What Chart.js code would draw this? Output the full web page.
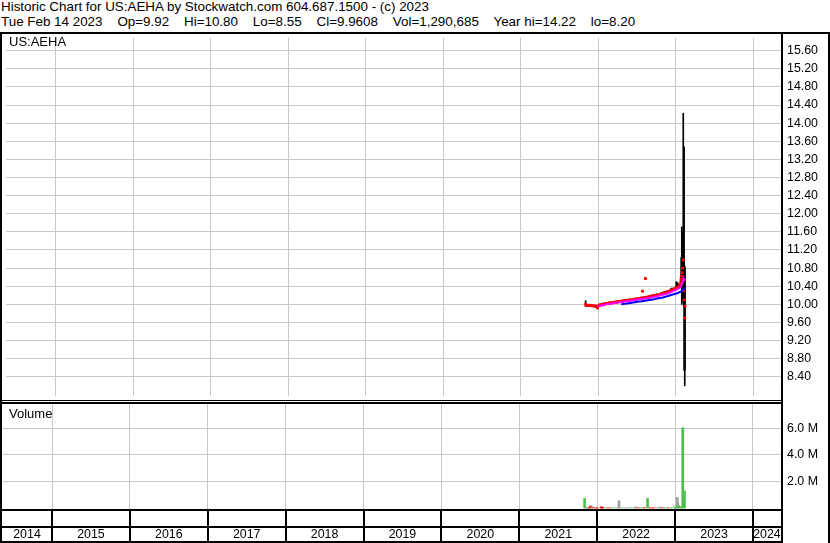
<!DOCTYPE html>
<html><head><meta charset="utf-8">
<script src="https://cdn.jsdelivr.net/npm/chart.js@4.4.1/dist/chart.umd.min.js"></script>
<style>
html,body{margin:0;padding:0;background:#fff;}
body{width:830px;height:543px;position:relative;overflow:hidden;font-family:"Liberation Sans",Arial,sans-serif;color:#000;}
.t{position:absolute;white-space:pre;font-size:13.4px;line-height:15px;}
.l{position:absolute;white-space:pre;font-size:13px;line-height:15px;}
.b{position:absolute;background:#000;}
canvas{position:absolute;}
</style></head><body>
<div class="t" style="left:1px;top:-1px">Historic Chart for US:AEHA by Stockwatch.com 604.687.1500 - (c) 2023</div>
<div class="t" style="left:1px;top:14px">Tue Feb 14 2023    Op=9.92    Hi=10.80    Lo=8.55    Cl=9.9608    Vol=1,290,685    Year hi=14.22    lo=8.20</div>
<canvas id="pc" width="826" height="366" style="left:2px;top:34px"></canvas>
<canvas id="vc" width="826" height="105" style="left:2px;top:404px"></canvas>
<canvas id="ac" width="779" height="30" style="left:2px;top:511px"></canvas>
<div class="l" style="left:9px;top:34px">US:AEHA</div>
<div class="l" style="left:9px;top:406px">Volume</div>
<div class="b" style="left:0;top:32px;width:830px;height:2px"></div>
<div class="b" style="left:0;top:32px;width:2px;height:511px"></div>
<div class="b" style="left:828px;top:32px;width:2px;height:511px"></div>
<div class="b" style="left:781px;top:32px;width:2px;height:511px"></div>
<div class="b" style="left:0;top:400px;width:783px;height:1px"></div>
<div class="b" style="left:0;top:402px;width:783px;height:2px"></div>
<div class="b" style="left:0;top:509px;width:783px;height:2px"></div>
<div class="b" style="left:0;top:526px;width:783px;height:2px"></div>
<div class="b" style="left:0;top:541px;width:783px;height:2px"></div>
<script>
// ---- data ----
const yearTicks = [2015,2016,2017,2018,2019,2020,2021,2022,2023,2024];
const yearLabels = ['2014','2015','2016','2017','2018','2019','2020','2021','2022','2023','2024'];
const priceTickLabels = ['8.40','8.80','9.20','9.60','10.00','10.40','10.80','11.20','11.60','12.00','12.40','12.80','13.20','13.60','14.00','14.40','14.80','15.20','15.60'];
const volTickValues = [2000000,4000000,6000000];
const volTickLabels = ['2.0 M','4.0 M','6.0 M'];

const priceDates = [
'2021-11-03','2021-11-10','2021-11-17','2021-11-24','2021-12-01','2021-12-08','2021-12-15','2021-12-22','2021-12-29',
'2022-01-05','2022-01-12','2022-01-19','2022-01-26','2022-02-02','2022-02-09','2022-02-16','2022-02-23',
'2022-03-02','2022-03-09','2022-03-16','2022-03-23','2022-03-30','2022-04-06','2022-04-13','2022-04-20','2022-04-27',
'2022-05-04','2022-05-11','2022-05-18','2022-05-25','2022-06-01','2022-06-08','2022-06-15','2022-06-22','2022-06-29',
'2022-07-06','2022-07-13','2022-07-20','2022-07-27','2022-07-29','2022-08-03','2022-08-10','2022-08-12','2022-08-17','2022-08-24','2022-08-31',
'2022-09-07','2022-09-14','2022-09-21','2022-09-28','2022-10-05','2022-10-12','2022-10-19','2022-10-26',
'2022-11-02','2022-11-09','2022-11-16','2022-11-23','2022-11-30','2022-12-07','2022-12-14','2022-12-21','2022-12-28',
'2023-01-04','2023-01-11','2023-01-18','2023-01-23','2023-01-25','2023-01-27','2023-01-30','2023-02-01','2023-02-03','2023-02-06','2023-02-08','2023-02-10','2023-02-13','2023-02-14'];
const priceClose = [
10.00,9.98,9.97,9.98,9.97,9.97,9.96,9.96,9.92,
9.98,9.99,10.00,10.00,10.01,10.02,10.02,10.03,
10.03,10.04,10.04,10.05,10.05,10.06,10.06,10.07,10.07,
10.08,10.08,10.09,10.09,10.10,10.10,10.11,10.11,10.12,
10.12,10.13,10.13,10.14,10.29,10.14,10.15,10.57,10.15,10.16,10.17,
10.18,10.18,10.19,10.20,10.20,10.21,10.22,10.23,
10.24,10.25,10.26,10.27,10.28,10.30,10.31,10.33,10.34,
10.36,10.38,10.40,10.42,10.48,10.55,10.62,10.70,10.80,10.98,10.30,10.10,9.70,9.96];
const priceHigh = [
10.08,10.00,9.99,10.00,9.99,9.98,9.98,9.97,9.97,
10.00,10.01,10.02,10.03,10.03,10.04,10.04,10.05,
10.05,10.06,10.06,10.07,10.07,10.08,10.08,10.09,10.09,
10.10,10.11,10.11,10.11,10.12,10.12,10.13,10.13,10.14,
10.14,10.15,10.16,10.16,10.30,10.16,10.17,10.58,10.18,10.18,10.19,
10.20,10.21,10.21,10.22,10.23,10.23,10.24,10.26,
10.27,10.28,10.29,10.30,10.31,10.34,10.36,10.36,10.37,
10.50,10.48,10.44,10.45,10.60,11.03,11.71,11.20,11.60,14.22,11.00,13.48,10.85,10.80];
const priceLow = [
9.95,9.96,9.95,9.96,9.95,9.95,9.94,9.93,9.90,
9.95,9.97,9.98,9.98,9.99,10.00,10.00,10.01,
10.01,10.02,10.02,10.03,10.03,10.04,10.04,10.05,10.05,
10.06,10.06,10.07,10.07,10.08,10.08,10.09,10.09,10.10,
10.10,10.11,10.11,10.12,10.28,10.12,10.13,10.56,10.13,10.14,10.15,
10.16,10.16,10.17,10.18,10.18,10.19,10.20,10.21,
10.22,10.23,10.24,10.25,10.26,10.27,10.28,10.30,10.31,
10.33,10.35,10.37,10.38,10.40,10.45,10.00,10.30,10.10,10.05,9.95,8.54,8.20,8.55];

const maShortDates = ['2021-12-29','2022-01-12','2022-01-26','2022-02-09','2022-02-23','2022-03-09','2022-03-23','2022-04-06','2022-04-20','2022-05-04','2022-05-18','2022-06-01','2022-06-15','2022-06-29','2022-07-13','2022-07-27','2022-08-10','2022-08-24','2022-09-07','2022-09-21','2022-10-05','2022-10-19','2022-11-02','2022-11-16','2022-11-30','2022-12-14','2022-12-28','2023-01-11','2023-01-25','2023-02-03','2023-02-08','2023-02-14'];
const maShortValues = [9.97,9.97,9.98,10.00,10.01,10.02,10.03,10.04,10.05,10.06,10.07,10.08,10.09,10.10,10.11,10.12,10.13,10.14,10.15,10.17,10.18,10.20,10.21,10.23,10.25,10.28,10.31,10.34,10.38,10.48,10.58,10.52];
const maLongDates = ['2022-04-20','2022-05-04','2022-05-18','2022-06-01','2022-06-15','2022-06-29','2022-07-13','2022-07-27','2022-08-10','2022-08-24','2022-09-07','2022-09-21','2022-10-05','2022-10-19','2022-11-02','2022-11-16','2022-11-30','2022-12-14','2022-12-28','2023-01-11','2023-01-25','2023-02-03','2023-02-08','2023-02-14'];
const maLongValues = [10.00,10.01,10.02,10.03,10.04,10.05,10.06,10.07,10.08,10.09,10.10,10.11,10.13,10.14,10.15,10.17,10.19,10.21,10.23,10.25,10.28,10.31,10.35,10.33];

const volDates = ['2021-11-03','2021-11-10','2021-11-17','2021-11-24','2021-12-01','2021-12-06','2021-12-15','2021-12-29','2022-01-12','2022-01-21','2022-01-26','2022-02-09','2022-02-23','2022-03-09','2022-03-23','2022-04-06','2022-04-13','2022-04-27','2022-05-11','2022-05-25','2022-06-08','2022-06-22','2022-06-30','2022-07-13','2022-07-27','2022-08-10','2022-08-25','2022-09-07','2022-09-21','2022-10-05','2022-10-20','2022-11-02','2022-11-16','2022-11-30','2022-12-14','2022-12-30','2023-01-11','2023-01-13','2023-01-17','2023-01-25','2023-01-30','2023-02-06','2023-02-14'];
const volValues = [720000,60000,30000,20000,150000,90000,20000,30000,20000,90000,60000,20000,15000,20000,15000,20000,540000,20000,20000,15000,20000,20000,90000,20000,20000,25000,720000,20000,20000,20000,80000,20000,20000,15000,20000,80000,800000,400000,200000,50000,100000,6050000,1290685];
const volDir = ['u','f','f','d','d','u','d','d','u','d','d','u','d','u','u','f','f','u','f','u','u','f','f','d','u','d','u','d','d','u','f','d','u','d','u','u','f','f','u','u','u','u','u'];

// ---- helpers ----
function dy(s){const p=s.split('-').map(Number);const t=Date.UTC(p[0],p[1]-1,p[2]),a=Date.UTC(p[0],0,1),b=Date.UTC(p[0]+1,0,1);return p[0]+(t-a)/(b-a);}
const X_MIN = 2014.358, X_MAX = 2024.36;
const GRID = '#c8c8c8';
Chart.defaults.font.family = '"Liberation Sans", Arial, sans-serif';
const dirColor = {u:'#4cc04c', d:'#ff0000', f:'#a0a0a0'};

function xScale(gridColor, lw){
  return {type:'linear', min:X_MIN, max:X_MAX, offset:false,
    afterBuildTicks:a=>{a.ticks = yearTicks.map(v=>({value:v}));},
    grid:{color:gridColor, lineWidth:lw, drawTicks:false, offset:false}, border:{display:false}, ticks:{display:false}};
}
const common = {responsive:false, animation:false, events:[], layout:{padding:0},
  plugins:{legend:{display:false}, tooltip:{enabled:false}}};

new Chart(document.getElementById('pc'), {
  type:'bar',
  data:{datasets:[
    {type:'bar', data:priceDates.map((d,i)=>({x:dy(d), y:[priceLow[i], priceHigh[i]]})), backgroundColor:'#000', barThickness:1, order:3},
    {type:'line', data:priceDates.map((d,i)=>({x:dy(d), y:priceClose[i]})), showLine:false, pointStyle:'rect', pointRadius:2, pointBorderWidth:0, pointBackgroundColor:'#ff0000', order:2},
    {type:'line', data:maShortDates.map((d,i)=>({x:dy(d), y:maShortValues[i]})), borderColor:'#ff00ff', borderWidth:2, pointRadius:0, tension:0, order:1},
    {type:'line', data:maLongDates.map((d,i)=>({x:dy(d), y:maLongValues[i]})), borderColor:'#0000ff', borderWidth:2, pointRadius:0, tension:0, order:0}
  ]},
  options:Object.assign({}, common, {scales:{
    x:xScale(GRID,1),
    y:{position:'right', min:7.976, max:15.881,
      afterBuildTicks:a=>{a.ticks = priceTickLabels.map(v=>({value:parseFloat(v)}));},
      afterFit:a=>{a.width=47; a.paddingTop=0; a.paddingBottom=0;},
      grid:{color:GRID, drawTicks:false}, border:{display:false},
      ticks:{autoSkip:false, padding:6, color:'#000', font:{size:12.4}, callback:(v,i)=>priceTickLabels[i]}}
  }})
});

new Chart(document.getElementById('vc'), {
  type:'bar',
  data:{datasets:[
    {type:'bar', data:volDates.map((d,i)=>({x:dy(d), y:volValues[i]})), backgroundColor:volDir.map(c=>dirColor[c]), barThickness:2}
  ]},
  options:Object.assign({}, common, {scales:{
    x:xScale(GRID,1),
    y:{position:'right', min:-75000, max:7830000, beginAtZero:false,
      afterBuildTicks:a=>{a.ticks = volTickValues.map(v=>({value:v}));},
      afterFit:a=>{a.width=47; a.paddingTop=0; a.paddingBottom=0;},
      grid:{color:GRID, drawTicks:false}, border:{display:false},
      ticks:{autoSkip:false, padding:6, color:'#000', font:{size:12.4}, callback:(v,i)=>volTickLabels[i]}}
  }})
});

const yearLabelPlugin = {id:'yearLabels', afterDraw(chart){
  const x = chart.scales.x, ctx = chart.ctx;
  ctx.save(); ctx.font = '12.4px "Liberation Sans", Arial, sans-serif'; ctx.fillStyle = '#000';
  ctx.textAlign = 'center'; ctx.textBaseline = 'middle';
  yearLabels.forEach(l => {
    const a = Math.max(+l, x.min), b = Math.min(+l + 1, x.max);
    ctx.fillText(l, (x.getPixelForValue(a) + x.getPixelForValue(b)) / 2, 24);
  });
  ctx.restore();
}};
new Chart(document.getElementById('ac'), {
  type:'scatter',
  data:{datasets:[]},
  options:Object.assign({}, common, {scales:{x:xScale('#000',2), y:{display:false}}}),
  plugins:[yearLabelPlugin]
});
</script>
</body></html>
